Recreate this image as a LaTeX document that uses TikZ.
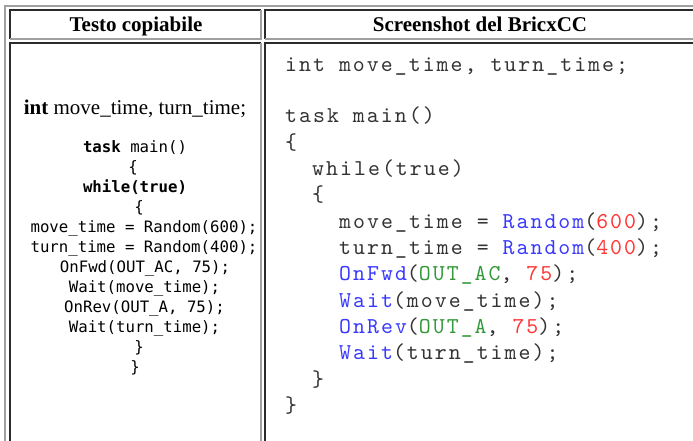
\documentclass[tikz,border=0pt]{standalone}
\usepackage{fontspec}
\setmainfont{Liberation Serif}
\newfontfamily\consfont{DejaVu Sans Mono}
\newfontfamily\shotfont{lmmono10-regular.otf}[LetterSpace=9]
\usepackage{tikz}

\definecolor{lightrule}{HTML}{A0A0A0}
\definecolor{darkrule}{HTML}{2B2B2B}
\definecolor{codegray}{HTML}{333333}
\definecolor{kwblue}{HTML}{3838FF}
\definecolor{numred}{HTML}{FF3434}
\definecolor{constgreen}{HTML}{34993A}

\begin{document}
\begin{tikzpicture}[x=1pt, y=-1pt,
    lightedge/.style={draw=lightrule, line width=2pt},
    darkedge/.style={draw=darkrule, line width=2pt},
    headtext/.style={anchor=base, inner sep=0pt, font=\fontsize{21}{25}\selectfont\bfseries},
    copytext/.style={anchor=base, inner sep=0pt, font=\consfont\fontsize{15.7}{19}\selectfont},
    shottext/.style={anchor=base west, inner sep=0pt, text=codegray, font=\shotfont\fontsize{22.7}{26}\selectfont}]
  \useasboundingbox (0,0) rectangle (693,441);

  \draw[lightedge] (5,441) -- (5,6) -- (693,6);
  \draw[darkedge] (10,39) -- (10,10) -- (261,10);
  \draw[lightedge] (261,10) -- (261,39) -- (10,39);
  \draw[darkedge] (265,39) -- (265,10) -- (693,10);
  \draw[lightedge] (265,39) -- (693,39);
  \draw[darkedge] (10,441) -- (10,43) -- (261,43);
  \draw[lightedge] (261,43) -- (261,441);
  \draw[darkedge] (265,441) -- (265,43) -- (693,43);

  \node[headtext] (head1) at (136,32) {Testo copiabile};
  \node[headtext] (head2) at (480,32) {Screenshot del BricxCC};

  \node[anchor=base, inner sep=0pt, font=\fontsize{21}{25}\selectfont] (cdecl) at (135,114) {\textbf{int} move\_time, turn\_time;};
  \node[copytext] (ctask) at (135,152) {{\bfseries task} main()};
  \node[copytext] (copen1) at (133,172) {\{};
  \node[copytext] (cwhile) at (135,192) {\bfseries while(true)};
  \node[copytext] (copen2) at (139,212) {\{};
  \node[copytext] (cmove) at (144,232) {move\_time = Random(600);};
  \node[copytext] (cturn) at (144,252) {turn\_time = Random(400);};
  \node[copytext] (cfwd) at (145,272) {OnFwd(OUT\_AC, 75);};
  \node[copytext] (cwait1) at (144.5,292) {Wait(move\_time);};
  \node[copytext] (crev) at (144.5,312) {OnRev(OUT\_A, 75);};
  \node[copytext] (cwait2) at (144.5,332) {Wait(turn\_time);};
  \node[copytext] (cclose2) at (139,352) {\}};
  \node[copytext] (cclose1) at (135,372) {\}};

  \node[shottext] (sdecl) at (285,72) {int move\_time, turn\_time;};
  \node[shottext] (stask) at (285,123) {task main()};
  \node[shottext] (sopen1) at (285,149.3) {\{};
  \node[shottext] (swhile) at (312,175.6) {while(true)};
  \node[shottext] (sopen2) at (312,201.9) {\{};
  \node[shottext] (smove) at (339,228.2) {move\_time = \textcolor{kwblue}{Random}(\textcolor{numred}{600});};
  \node[shottext] (sturn) at (339,254.5) {turn\_time = \textcolor{kwblue}{Random}(\textcolor{numred}{400});};
  \node[shottext] (sfwd) at (339,280.8) {\textcolor{kwblue}{OnFwd}(\textcolor{constgreen}{OUT\_AC}, \textcolor{numred}{75});};
  \node[shottext] (swait1) at (339,307.1) {\textcolor{kwblue}{Wait}(move\_time);};
  \node[shottext] (srev) at (339,333.4) {\textcolor{kwblue}{OnRev}(\textcolor{constgreen}{OUT\_A}, \textcolor{numred}{75});};
  \node[shottext] (swait2) at (339,359.7) {\textcolor{kwblue}{Wait}(turn\_time);};
  \node[shottext] (sclose2) at (312,386) {\}};
  \node[shottext] (sclose1) at (285,412.3) {\}};
\end{tikzpicture}
\end{document}
